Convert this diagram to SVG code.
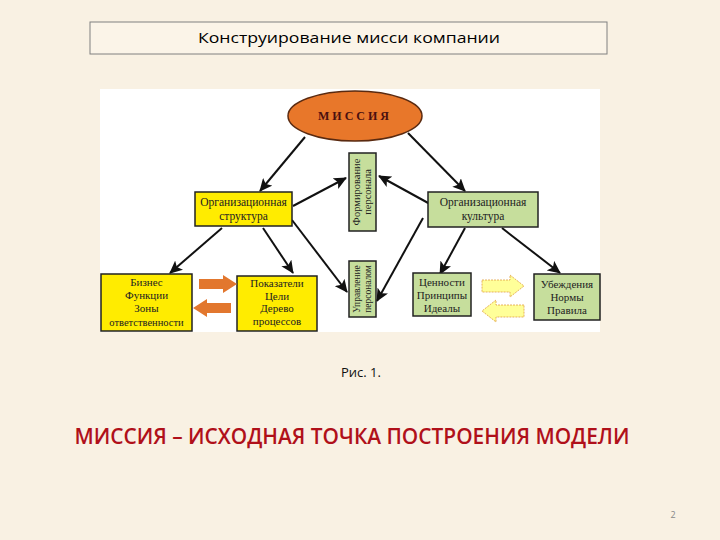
<svg xmlns="http://www.w3.org/2000/svg" width="720" height="540" viewBox="0 0 720 540">
<defs>
<style>
.bg{fill:#f9f1e3}
.ttl{font-family:"Open Sans","Liberation Sans",sans-serif;font-size:15px;fill:#000}
.box{stroke:#222;stroke-width:1.5}
.yel{fill:#ffec00}
.grn{fill:#c6de9c}
.st{font-family:"Liberation Serif",serif;font-size:11px;fill:#222;text-anchor:middle}
.big{font-size:11.5px}
.vf{font-size:10.5px}
.vm{font-size:9.5px}
.sm{font-size:10.5px}
.con{stroke:#111;stroke-width:2;fill:none;marker-end:url(#ah)}
.oa{fill:#e2772e}
.ya{fill:#ffff99;stroke:#e0a040;stroke-width:0.8;stroke-dasharray:2 1}
</style>
<marker id="ah" markerUnits="userSpaceOnUse" markerWidth="14" markerHeight="12" refX="12" refY="6" orient="auto">
<path d="M0,0 L13,6 L0,12 L3,6 Z" fill="#111"/>
</marker>
</defs>
<rect class="bg" x="0" y="0" width="720" height="540"/>
<g id="title">
<rect x="90" y="22" width="517" height="32" fill="#fbf4e8" stroke="#808080" stroke-width="1"/>
<text class="ttl" x="349" y="43" text-anchor="middle" textLength="302" lengthAdjust="spacingAndGlyphs">Конструирование мисси компании</text>
</g>
<rect x="100" y="89" width="500" height="243" fill="#ffffff"/>
<g id="connectors">
<line class="con" x1="305" y1="137" x2="260" y2="191"/>
<line class="con" x1="408" y1="133" x2="465" y2="191"/>
<line class="con" x1="293" y1="206" x2="346" y2="178"/>
<line class="con" x1="430" y1="204" x2="379" y2="176"/>
<line class="con" x1="292" y1="220" x2="347" y2="292"/>
<line class="con" x1="423" y1="218" x2="377" y2="301"/>
<line class="con" x1="222" y1="228" x2="170" y2="273"/>
<line class="con" x1="263" y1="228" x2="293" y2="273"/>
<line class="con" x1="465" y1="228" x2="440" y2="274"/>
<line class="con" x1="502" y1="228" x2="560" y2="273"/>
</g>
<g id="mission">
<ellipse cx="355" cy="116" rx="67" ry="25" fill="#e8772a" stroke="#5a2a10" stroke-width="1.5"/>
<text x="355" y="120" text-anchor="middle" font-family="Liberation Serif,serif" font-weight="bold" font-size="12" letter-spacing="3" fill="#4a1010">МИССИЯ</text>
</g>
<g id="org-structure">
<rect class="box yel" x="195" y="192" width="97" height="34"/>
<text class="st big" x="243.5" y="206">Организационная</text>
<text class="st big" x="243.5" y="220">структура</text>
</g>
<g id="org-culture">
<rect class="box grn" x="428" y="192" width="110" height="35"/>
<text class="st big" x="483" y="206">Организационная</text>
<text class="st big" x="483" y="220">культура</text>
</g>
<g id="formation">
<rect class="box grn" x="349" y="153" width="27" height="78"/>
<text class="st vf" transform="translate(360,192) rotate(-90)">Формирование</text>
<text class="st vf" transform="translate(371,192) rotate(-90)">персонала</text>
</g>
<g id="management">
<rect class="box grn" x="349" y="261" width="27" height="56"/>
<text class="st vm" transform="translate(360,289) rotate(-90)">Управление</text>
<text class="st vm" transform="translate(371,289) rotate(-90)">персоналом</text>
</g>
<g id="business">
<rect class="box yel" x="101" y="274" width="91" height="57"/>
<text class="st" x="146.5" y="286">Бизнес</text>
<text class="st" x="146.5" y="299">Функции</text>
<text class="st" x="146.5" y="312">Зоны</text>
<text class="st sm" x="146.5" y="326">ответственности</text>
</g>
<g id="indicators">
<rect class="box yel" x="237" y="276" width="80" height="55"/>
<text class="st" x="277" y="287">Показатели</text>
<text class="st" x="277" y="300">Цели</text>
<text class="st" x="277" y="312">Дерево</text>
<text class="st" x="277" y="325">процессов</text>
</g>
<g id="values">
<rect class="box grn" x="413" y="273" width="58" height="43"/>
<text class="st" x="442" y="286">Ценности</text>
<text class="st" x="442" y="299">Принципы</text>
<text class="st" x="442" y="312">Идеалы</text>
</g>
<g id="beliefs">
<rect class="box grn" x="534" y="274" width="66" height="46"/>
<text class="st" x="567" y="288">Убеждения</text>
<text class="st" x="567" y="301">Нормы</text>
<text class="st" x="567" y="314">Правила</text>
</g>
<g id="orange-arrows">
<path class="oa" d="M199,279 L223,279 L223,275 L237,284 L223,293 L223,289 L199,289 Z"/>
<path class="oa" d="M231,303 L207,303 L207,299 L193,308 L207,317 L207,313 L231,313 Z"/>
</g>
<g id="yellow-arrows">
<path class="ya" d="M482,280 L510,280 L510,275 L524,286 L510,297 L510,292 L482,292 Z"/>
<path class="ya" d="M524,305 L496,305 L496,300 L482,311 L496,322 L496,317 L524,317 Z"/>
</g>
<text x="361" y="377" text-anchor="middle" font-family="Open Sans,Liberation Sans,sans-serif" font-size="13" fill="#111">Рис. 1.</text>
<text x="352" y="444" text-anchor="middle" font-family="Open Sans,Liberation Sans,sans-serif" font-weight="600" font-size="21" fill="#b0101a" textLength="555" lengthAdjust="spacingAndGlyphs">МИССИЯ – ИСХОДНАЯ ТОЧКА ПОСТРОЕНИЯ МОДЕЛИ</text>
<text x="673" y="518" text-anchor="middle" font-family="Open Sans,Liberation Sans,sans-serif" font-size="9" fill="#888">2</text>
</svg>
